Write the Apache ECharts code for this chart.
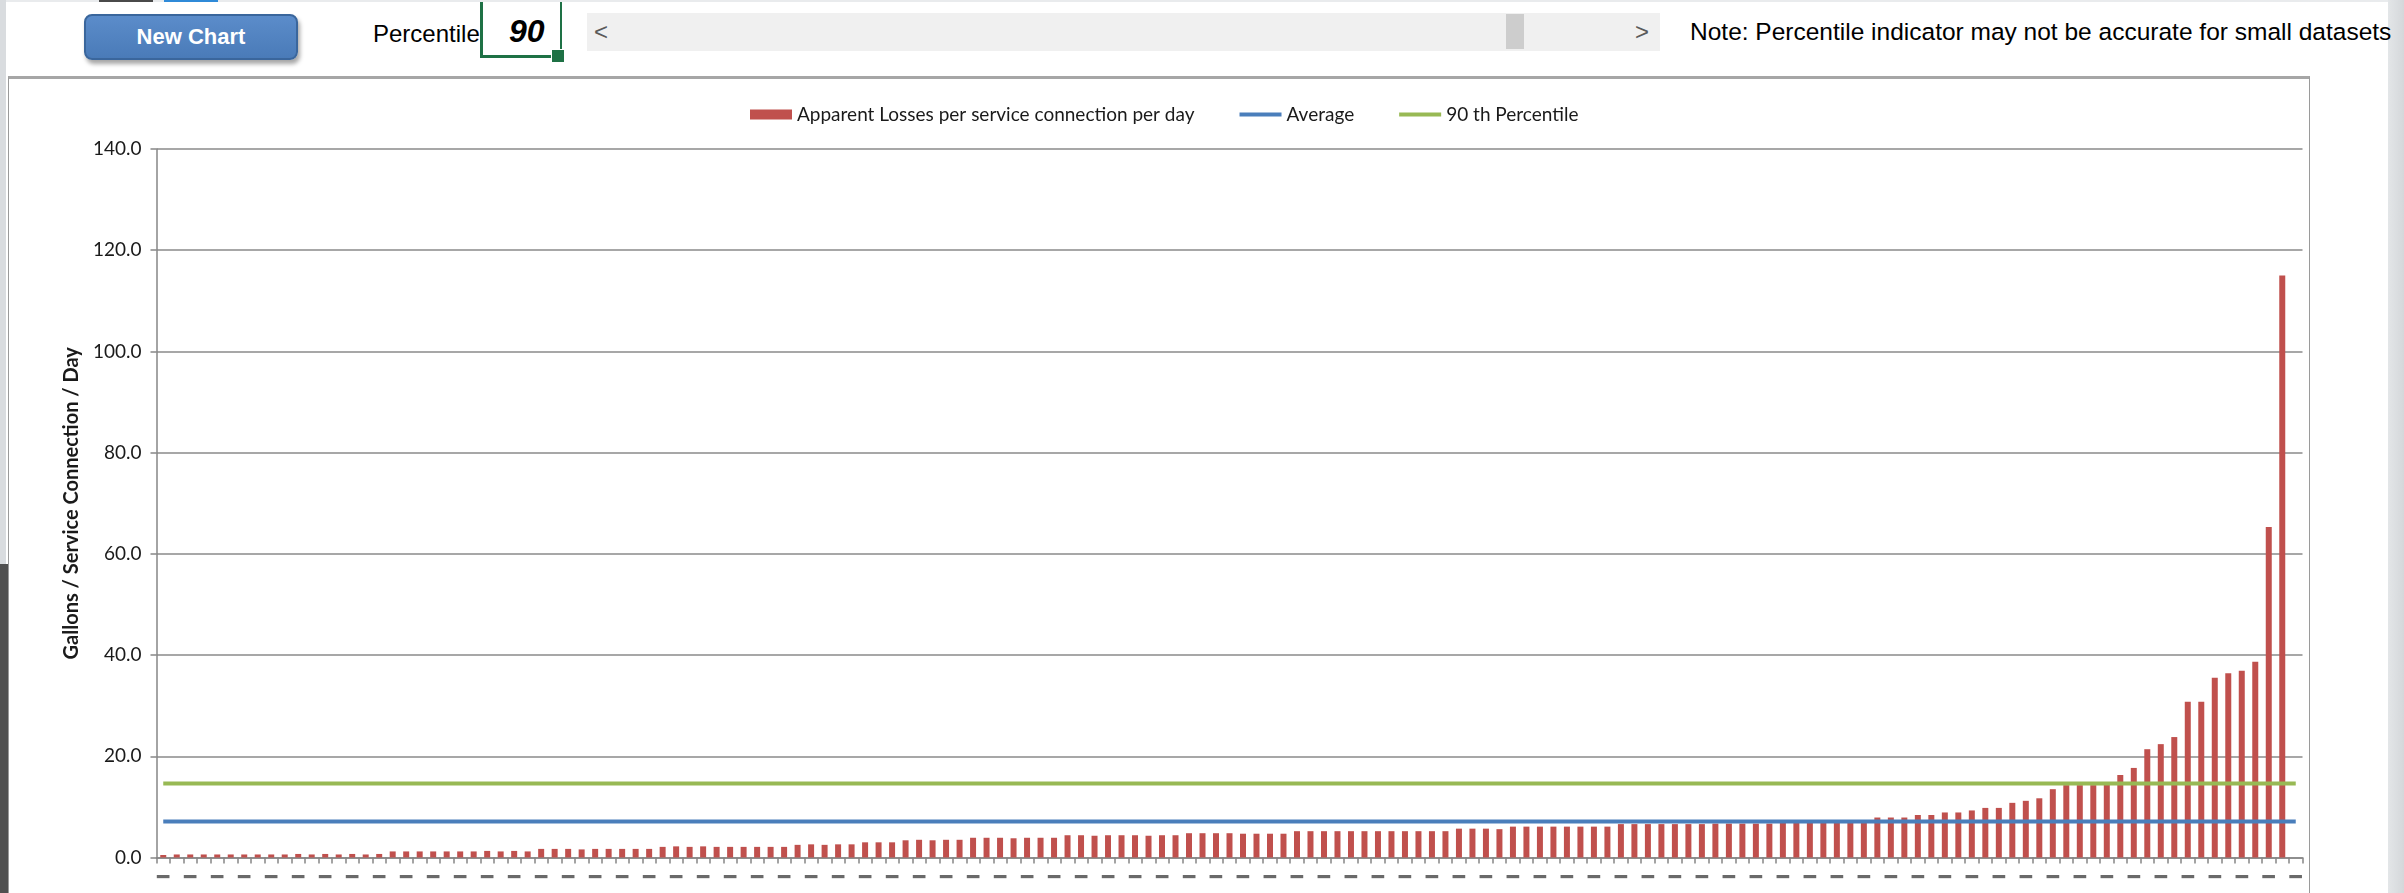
<!DOCTYPE html>
<html>
<head>
<meta charset="utf-8">
<title>Apparent Losses per Service Connection</title>
<script src="https://cdn.jsdelivr.net/npm/echarts/dist/echarts.min.js"></script>
<style>
  html, body { margin: 0; padding: 0; width: 2404px; height: 893px; overflow: hidden; background: #ffffff; }
  body { position: relative; font-family: "Liberation Sans", Arial, sans-serif; color: #000; }
  .abs { position: absolute; }
  #topband { left: 0; top: 0; width: 2404px; height: 2px; background: #e9ebed; }
  #tabDark { left: 99px; top: 0; width: 54px; height: 2px; background: #4a4a4a; }
  #tabBlue { left: 164px; top: 0; width: 54px; height: 2px; background: #2f8ad8; }
  #leftLight { left: 0; top: 0; width: 6px; height: 893px; background: #d9dcdf; }
  #leftDark { left: 0; top: 564px; width: 8px; height: 329px; background: #505050; }
  #rightStrip { left: 2388px; top: 0; width: 16px; height: 893px; background: linear-gradient(to right, #e3e6e8, #d4d7da); }
  #btn { left: 84px; top: 14px; width: 210px; height: 42px; border: 2px solid #3a669c; border-radius: 8px;
         background: linear-gradient(#5b8cca, #4a7bb8); box-shadow: 2px 4px 4px rgba(0,0,0,0.35);
         color: #fff; font: bold 22px "Liberation Sans", Arial, sans-serif; line-height: 42px; text-align: center; }
  #pctLabel { left: 373px; top: 22px; font-size: 24px; line-height: 24px; white-space: nowrap; }
  #cell { left: 480px; top: 2px; width: 77px; height: 53px; border-left: 3px solid #1e7145; border-right: 2px solid #1e7145; border-bottom: 3px solid #1e7145; }
  #cellVal { left: 509px; top: 15px; font: italic bold 32px "Liberation Sans", Arial, sans-serif; line-height: 32px; }
  #handle { left: 551px; top: 49px; width: 12px; height: 12px; background: #1e7145; border: 1px solid #ffffff; }
  #scroll { left: 587px; top: 13px; width: 1073px; height: 38px; background: #f0f0f0; }
  #thumb { left: 1506px; top: 14px; width: 18px; height: 35px; background: #cdcdcd; }
  .arrow { top: 20px; font-size: 24px; line-height: 24px; color: #5a5a5a; }
  #note { left: 1690px; top: 20px; font-size: 24.5px; line-height: 24px; white-space: nowrap; }
  #chartBox { left: 8px; top: 76px; width: 2300px; height: 830px; border: 1px solid #9a9a9a; border-top: 3px solid #a6a6a6; background: #ffffff; }
  #chart { left: 0; top: 0; width: 2404px; height: 893px; }
</style>
</head>
<body>
<div id="topband" class="abs"></div>
<div id="tabDark" class="abs"></div>
<div id="tabBlue" class="abs"></div>
<div id="leftLight" class="abs"></div>
<div id="leftDark" class="abs"></div>
<div id="rightStrip" class="abs"></div>

<div id="btn" class="abs">New Chart</div>
<div id="pctLabel" class="abs">Percentile</div>
<div id="cell" class="abs"></div>
<div id="cellVal" class="abs">90</div>
<div id="handle" class="abs"></div>
<div id="scroll" class="abs"></div>
<div class="abs arrow" style="left:594px">&lt;</div>
<div id="thumb" class="abs"></div>
<div class="abs arrow" style="left:1635px">&gt;</div>
<div id="note" class="abs">Note: Percentile indicator may not be accurate for small datasets</div>

<div id="chartBox" class="abs"></div>
<div id="chart" class="abs"></div>

<script>
// Apparent losses (gallons per service connection per day), one bar per utility, sorted ascending
const lossValues = [
  0.5, 0.6, 0.6, 0.6, 0.6, 0.6, 0.6, 0.6, 0.6, 0.6, 0.7, 0.6, 0.7, 0.6, 0.7, 0.6, 0.7,
  1.2, 1.2, 1.2, 1.2, 1.2, 1.2, 1.2, 1.3, 1.2, 1.3, 1.2,
  1.7, 1.7, 1.7, 1.6, 1.7, 1.7, 1.7, 1.7, 1.7,
  2.1, 2.2, 2.1, 2.2, 2.1, 2.1, 2.1, 2.1, 2.1, 2.1,
  2.5, 2.6, 2.5, 2.6, 2.6,
  3.0, 3.0, 3.0,
  3.4, 3.5, 3.4, 3.5, 3.5,
  3.9, 3.9, 3.9, 3.8, 3.9, 3.9, 3.9,
  4.4, 4.4, 4.3, 4.4, 4.4, 4.4, 4.3, 4.4, 4.4,
  4.8, 4.8, 4.8, 4.8, 4.7, 4.7, 4.7, 4.7,
  5.2, 5.2, 5.2, 5.2, 5.2, 5.2, 5.2, 5.2, 5.2, 5.2, 5.2, 5.2,
  5.7, 5.7, 5.7, 5.6,
  6.1, 6.1, 6.1, 6.1, 6.1, 6.1, 6.1, 6.1,
  6.6, 6.6, 6.6, 6.6, 6.6, 6.6, 6.6, 6.7, 6.7, 6.7, 6.7, 6.7,
  6.9, 6.9, 6.9, 6.9, 6.9, 7.0, 7.0,
  7.9, 7.9, 7.9,
  8.4, 8.4,
  8.9, 8.9,
  9.3,
  9.8, 9.8,
  10.8, 11.2, 11.7, 13.5,
  14.3, 14.3, 14.3, 14.4,
  16.3, 17.7, 21.4, 22.4, 23.8,
  30.8, 30.8, 35.5, 36.4, 36.9, 38.7, 65.3, 115.0
];

// One more category than bars: the last slot is left empty
const categories = Array.from({ length: lossValues.length + 1 }, () => '—');

// Reference levels drawn as horizontal lines
const averageValue = 7.1;
const percentile90Value = 14.6;

// Value axis ticks
const yMin = 0;
const yMax = 140;
const yStep = 20;

const seriesNames = {
  losses: 'Apparent Losses per service connection per day',
  average: 'Average',
  pct: '90 th Percentile'
};

const colors = { losses: '#C0504D', average: '#4A7EBB', pct: '#98B954' };

const chart = echarts.init(document.getElementById('chart'), null, { renderer: 'canvas', width: 2404, height: 893 });

chart.setOption({
  animation: false,
  backgroundColor: 'transparent',
  textStyle: { fontFamily: 'Lato' },
  legend: {
    left: 745,
    top: 100,
    itemGap: 43,
    itemWidth: 42,
    itemHeight: 10,
    textStyle: { fontFamily: 'Lato', fontSize: 19, color: '#1a1a1a' },
    data: [
      { name: seriesNames.losses, icon: 'rect' },
      { name: seriesNames.average, itemStyle: { opacity: 0 }, lineStyle: { width: 4, color: colors.average, opacity: 1 } },
      { name: seriesNames.pct, itemStyle: { opacity: 0 }, lineStyle: { width: 4, color: colors.pct, opacity: 1 } }
    ]
  },
  grid: { left: 156.5, top: 149, width: 2146, height: 708.5, containLabel: false },
  xAxis: {
    type: 'category',
    data: categories,
    boundaryGap: true,
    axisLine: { show: true, lineStyle: { color: '#868686', width: 1.5 } },
    axisTick: { show: true, interval: 0, length: 6, lineStyle: { color: '#868686', width: 1.5 } },
    axisLabel: {
      interval: 1,
      margin: 10,
      fontFamily: 'Lato',
      fontSize: 16,
      fontWeight: 'bold',
      color: '#6a6a6a',
      textBorderColor: '#6a6a6a',
      textBorderWidth: 1.8
    },
    splitLine: { show: false }
  },
  yAxis: {
    type: 'value',
    min: yMin,
    max: yMax,
    interval: yStep,
    name: 'Gallons / Service Connection / Day',
    nameLocation: 'middle',
    nameGap: 69,
    nameTextStyle: { fontFamily: 'Lato', fontWeight: 'bold', fontSize: 20, color: '#1a1a1a' },
    axisLine: { show: true, lineStyle: { color: '#868686', width: 1.5 } },
    axisTick: { show: true, length: 6, lineStyle: { color: '#868686', width: 1.5 } },
    axisLabel: {
      margin: 15,
      fontFamily: 'Lato',
      fontSize: 19,
      color: '#1a1a1a',
      formatter: v => v.toFixed(1)
    },
    splitLine: { show: true, lineStyle: { color: '#8a8a8a', width: 1.5 } }
  },
  series: [
    {
      name: seriesNames.losses,
      type: 'bar',
      data: lossValues,
      barWidth: 6,
      itemStyle: { color: colors.losses },
      z: 2
    },
    {
      name: seriesNames.average,
      type: 'line',
      data: categories.map(() => averageValue),
      symbol: 'none',
      lineStyle: { color: colors.average, width: 4 },
      itemStyle: { color: colors.average },
      z: 3
    },
    {
      name: seriesNames.pct,
      type: 'line',
      data: categories.map(() => percentile90Value),
      symbol: 'none',
      lineStyle: { color: colors.pct, width: 4 },
      itemStyle: { color: colors.pct },
      z: 3
    }
  ]
});
</script>
</body>
</html>
